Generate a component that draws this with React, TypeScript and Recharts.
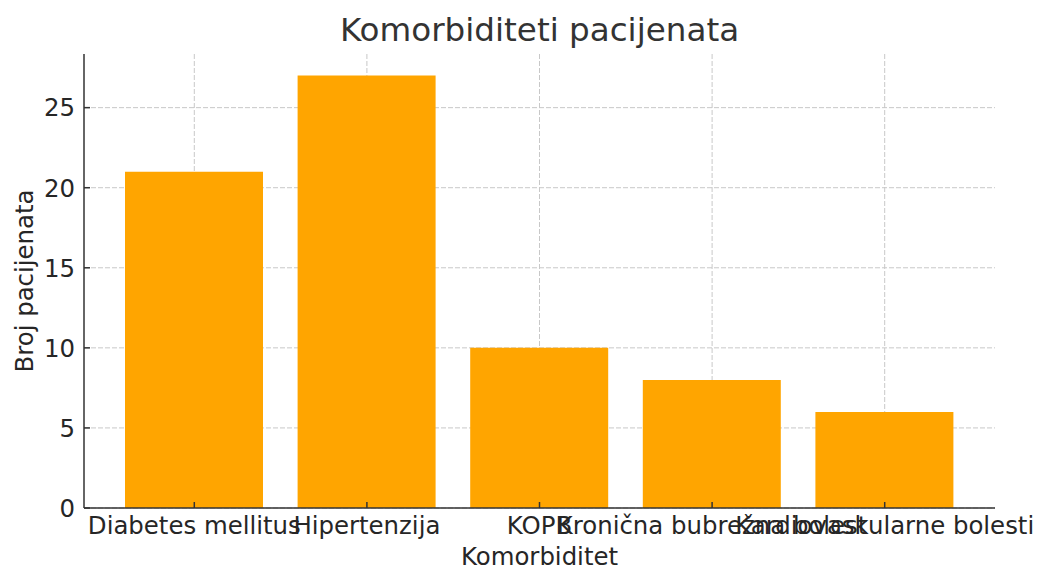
import React from "react";
import { BarChart, Bar, XAxis, YAxis, CartesianGrid } from "recharts";

const categories = [
    "Diabetes mellitus",
    "Hipertenzija",
    "KOPB",
    "Kronična bubrežna bolest",
    "Kardiovaskularne bolesti"
];
const patientCounts = [21, 27, 10, 8, 6];
const yTicks = [0, 5, 10, 15, 20, 25];

const data = categories.map((name, i) => ({ name, count: patientCounts[i] }));

const FONT = "'DejaVu Sans', sans-serif";
const TEXT = "#262626";
const TICK_FS = 24.4;

const XTick = (props: any) => {
    const { x, y, payload } = props;
    return (
        <text x={x} y={y} dy="0.71em" textAnchor="middle" fontSize={TICK_FS} fontFamily={FONT} fill={TEXT}>
            {payload.value}
        </text>
    );
};

const YTick = (props: any) => {
    const { x, y, payload } = props;
    return (
        <text x={x} y={y} dy="0.36em" textAnchor="end" fontSize={TICK_FS} fontFamily={FONT} fill={TEXT}>
            {payload.value}
        </text>
    );
};

const YLabel = (props: any) => {
    const vb = props.viewBox || {};
    const cx = vb.x + 24;
    const cy = vb.y + vb.height / 2;
    return (
        <text
            x={cx}
            y={cy}
            transform={`rotate(-90, ${cx}, ${cy})`}
            textAnchor="middle"
            dominantBaseline="central"
            fontSize={TICK_FS}
            fontFamily={FONT}
            fill={TEXT}
        >
            Broj pacijenata
        </text>
    );
};

const XLabel = (props: any) => {
    const vb = props.viewBox || {};
    return (
        <text
            x={vb.x + vb.width / 2}
            y={vb.y + 57}
            textAnchor="middle"
            fontSize={TICK_FS}
            fontFamily={FONT}
            fill={TEXT}
        >
            Komorbiditet
        </text>
    );
};

const App = () => {
    return (
        <div style={{ position: "absolute", left: 0, top: 0, width: 1039, height: 570, background: "#fff" }}>
            <div
                style={{
                    position: "absolute",
                    left: 84,
                    width: 911,
                    top: 14,
                    textAlign: "center",
                    fontFamily: FONT,
                    fontSize: 32.6,
                    lineHeight: "32px",
                    color: "#333"
                }}
            >
                Komorbiditeti pacijenata
            </div>
            <BarChart
                width={1039}
                height={570}
                data={data}
                margin={{ top: 54, right: 44, bottom: 0, left: 0 }}
            >
                {/* grid only at the ticks, no lines on the plot edges */}
                <CartesianGrid stroke="#c8c8c8" strokeDasharray="5 2" syncWithTicks />
                <XAxis
                    dataKey="name"
                    height={62}
                    padding={{ left: 24, right: 24 }}
                    interval={0}
                    tick={<XTick />}
                    tickSize={-6}
                    tickMargin={15}
                    tickLine={{ stroke: "#333", strokeWidth: 1.5 }}
                    axisLine={{ stroke: "#333", strokeWidth: 1.5 }}
                    label={<XLabel />}
                />
                <YAxis
                    width={84}
                    domain={[0, 28.35]}
                    ticks={yTicks}
                    allowDataOverflow
                    tick={<YTick />}
                    tickSize={-6}
                    tickMargin={15}
                    tickLine={{ stroke: "#333", strokeWidth: 1.5 }}
                    axisLine={{ stroke: "#333", strokeWidth: 1.5 }}
                    label={<YLabel />}
                />
                <Bar dataKey="count" fill="#FFA500" barSize={138} isAnimationActive={false} />
            </BarChart>
        </div>
    );
};

export default App;
